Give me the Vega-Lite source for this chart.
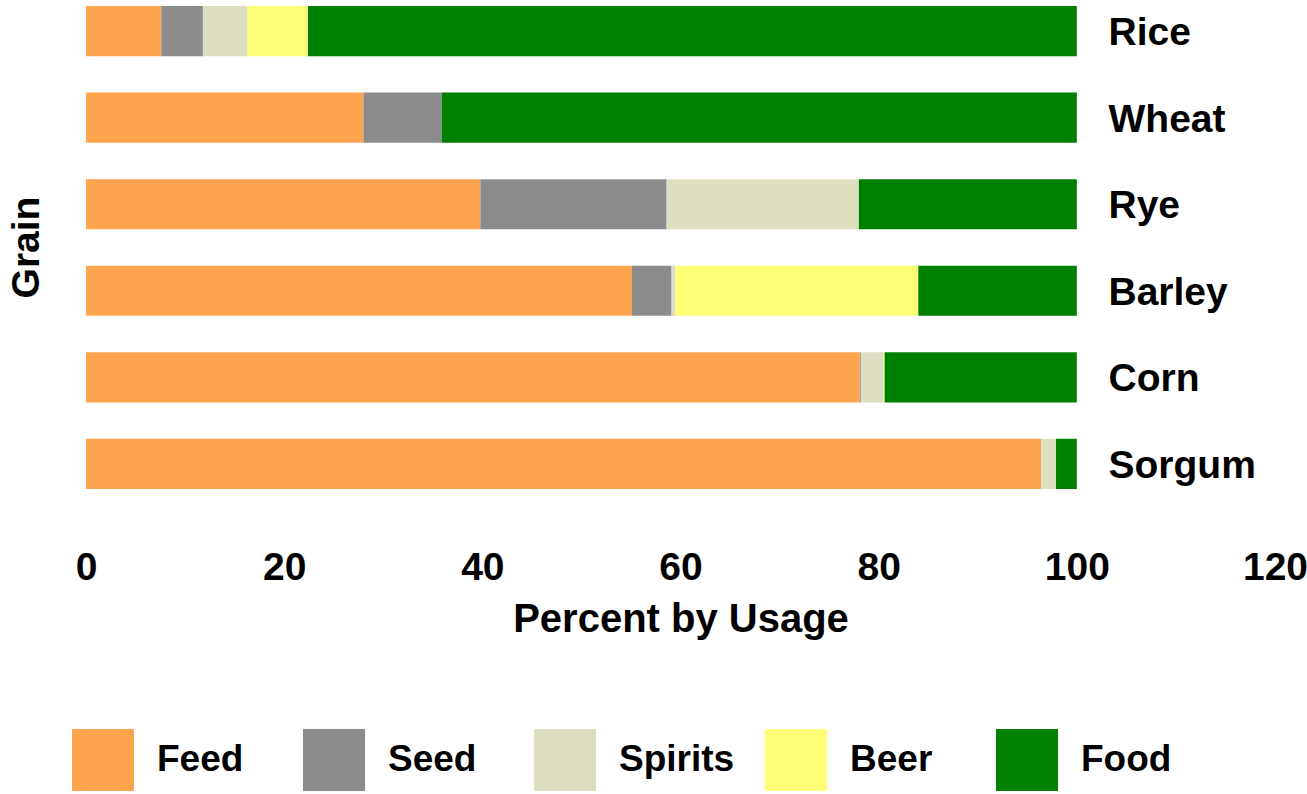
{
  "$schema": "https://vega.github.io/schema/vega-lite/v6.json",
  "autosize": {"type": "none"},
  "width": 1189,
  "height": 495,
  "padding": {"left": 86, "top": 0, "right": 32, "bottom": 299},
  "background": "white",
  "config": {
    "view": {"stroke": null},
    "font": "Liberation Sans"
  },
  "data": {
    "values": [
      {"grain": "Rice", "use": "Feed", "rank": 1, "pct": 7.6},
      {"grain": "Rice", "use": "Seed", "rank": 2, "pct": 4.2},
      {"grain": "Rice", "use": "Spirits", "rank": 3, "pct": 4.5},
      {"grain": "Rice", "use": "Beer", "rank": 4, "pct": 6.1},
      {"grain": "Rice", "use": "Food", "rank": 5, "pct": 77.6},
      {"grain": "Wheat", "use": "Feed", "rank": 1, "pct": 28.0},
      {"grain": "Wheat", "use": "Seed", "rank": 2, "pct": 7.9},
      {"grain": "Wheat", "use": "Spirits", "rank": 3, "pct": 0},
      {"grain": "Wheat", "use": "Beer", "rank": 4, "pct": 0},
      {"grain": "Wheat", "use": "Food", "rank": 5, "pct": 64.1},
      {"grain": "Rye", "use": "Feed", "rank": 1, "pct": 39.8},
      {"grain": "Rye", "use": "Seed", "rank": 2, "pct": 18.8},
      {"grain": "Rye", "use": "Spirits", "rank": 3, "pct": 19.4},
      {"grain": "Rye", "use": "Beer", "rank": 4, "pct": 0},
      {"grain": "Rye", "use": "Food", "rank": 5, "pct": 22.0},
      {"grain": "Barley", "use": "Feed", "rank": 1, "pct": 55.1},
      {"grain": "Barley", "use": "Seed", "rank": 2, "pct": 4.0},
      {"grain": "Barley", "use": "Spirits", "rank": 3, "pct": 0.4},
      {"grain": "Barley", "use": "Beer", "rank": 4, "pct": 24.5},
      {"grain": "Barley", "use": "Food", "rank": 5, "pct": 16.0},
      {"grain": "Corn", "use": "Feed", "rank": 1, "pct": 78.1},
      {"grain": "Corn", "use": "Seed", "rank": 2, "pct": 0.1},
      {"grain": "Corn", "use": "Spirits", "rank": 3, "pct": 2.3},
      {"grain": "Corn", "use": "Beer", "rank": 4, "pct": 0.1},
      {"grain": "Corn", "use": "Food", "rank": 5, "pct": 19.4},
      {"grain": "Sorgum", "use": "Feed", "rank": 1, "pct": 96.4},
      {"grain": "Sorgum", "use": "Seed", "rank": 2, "pct": 0},
      {"grain": "Sorgum", "use": "Spirits", "rank": 3, "pct": 1.5},
      {"grain": "Sorgum", "use": "Beer", "rank": 4, "pct": 0},
      {"grain": "Sorgum", "use": "Food", "rank": 5, "pct": 2.1}
    ]
  },
  "mark": {"type": "bar", "strokeWidth": 0},
  "encoding": {
    "y": {
      "field": "grain",
      "type": "nominal",
      "sort": ["Rice", "Wheat", "Rye", "Barley", "Corn", "Sorgum"],
      "scale": {"paddingInner": 0.42, "paddingOuter": 0.07},
      "axis": {
        "orient": "right",
        "offset": -195,
        "domain": false,
        "ticks": false,
        "labelPadding": 28,
        "labelOffset": 2,
        "labelAlign": "left",
        "labelBaseline": "middle",
        "labelFontSize": 39,
        "labelFontWeight": "bold",
        "labelColor": "#000000",
        "labelLimit": 400,
        "title": "Grain",
        "titleFontSize": 39,
        "titleFontWeight": "bold",
        "titleColor": "#000000",
        "titleAngle": -90,
        "titleX": -1042,
        "titleY": 247,
        "titleAlign": "center",
        "titleBaseline": "alphabetic"
      }
    },
    "x": {
      "field": "pct",
      "type": "quantitative",
      "stack": "zero",
      "scale": {"domain": [0, 120], "nice": false, "zero": true},
      "axis": {
        "values": [0, 20, 40, 60, 80, 100, 120],
        "domain": false,
        "ticks": false,
        "grid": false,
        "labelPadding": 53,
        "labelFontSize": 39,
        "labelFontWeight": "bold",
        "labelColor": "#000000",
        "labelFlush": false,
        "title": "Percent by Usage",
        "titleFontSize": 40,
        "titleFontWeight": "bold",
        "titleColor": "#000000",
        "titlePadding": 12
      }
    },
    "color": {
      "field": "use",
      "type": "nominal",
      "scale": {
        "domain": ["Feed", "Seed", "Spirits", "Beer", "Food"],
        "range": ["#FFA54F", "#8C8C8C", "#DEDEC0", "#FFFF77", "#008000"]
      },
      "legend": {
        "title": null,
        "orient": "none",
        "legendX": -14,
        "legendY": 729,
        "direction": "horizontal",
        "columns": 5,
        "gridAlign": "all",
        "columnPadding": 30,
        "padding": 0,
        "symbolType": "square",
        "symbolSize": 3844,
        "symbolStrokeWidth": 0,
        "symbolOpacity": 1,
        "labelFontSize": 37,
        "labelFontWeight": "bold",
        "labelColor": "#000000",
        "labelOffset": 23,
        "labelLimit": 300
      }
    },
    "order": {"field": "rank", "type": "quantitative"}
  }
}
